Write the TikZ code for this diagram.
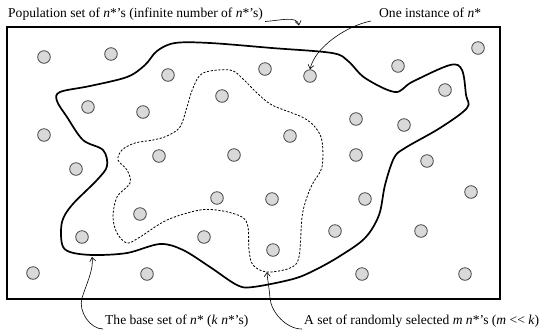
\documentclass[tikz,border=0pt]{standalone}
\usepackage{fontspec}
\setmainfont{Liberation Serif}
\usetikzlibrary{arrows.meta}
\begin{document}
\begin{tikzpicture}[x=1bp,y=-1bp,
  dot/.style={circle,draw=black!75,fill=black!15,line width=0.8bp,minimum size=12.6bp,inner sep=0pt},
  lbl/.style={font=\fontsize{13.6}{16}\selectfont,inner sep=0pt,anchor=base west},
  frame/.style={line width=1.1bp,draw=black},
  baseset/.style={line width=1.7bp,draw=black},
  subset/.style={line width=0.8bp,draw=black,dash pattern=on 2.2bp off 1.6bp},
  callout/.style={line width=0.6bp,draw=black,-{Straight Barb[length=4bp,width=6bp]}}]
\useasboundingbox (0,0) rectangle (544,331);
\draw[frame] (7,27) rectangle (500,299);
% base set
\draw[baseset] plot[smooth cycle,tension=0.55] coordinates {
 (60,92) (90,86) (127,77) (145,65) (157,51) (175,43) (210,43) (272,48) (332,53)
 (348,61) (365,78) (395,92) (412,82) (450,65) (462,70) (466,95) (467,108) (440,128)
 (405,148) (394,158) (385,185) (379,215) (365,238) (340,256) (315,270) (293,279)
 (253,287) (237,285) (210,267) (183,250) (160,244) (127,253) (93,255) (70,252)
 (62,244) (62,222) (72,205) (97,180) (107,166) (103,150) (83,140) (67,117) (57,101)};
% random subset
\draw[subset] plot[smooth cycle,tension=0.55] coordinates {
 (153,140) (167,136) (180,127) (187,107) (193,88) (203,73) (230,70) (243,79) (256,92)
 (272,105) (302,117) (315,127) (322,141) (322,167) (313,183) (307,197) (302,217)
 (299,257) (290,268) (267,272) (253,265) (249,250) (248,227) (242,217) (223,211)
 (200,210) (167,220) (140,237) (127,243) (117,233) (113,217) (117,197) (130,183)
 (127,170) (118,160) (122,150) (135,143)};
% circles
\foreach \px/\py [count=\i] in {44/57,111/54,168/75,222/96,265/69,88/107,143/112,44/135,
  478/48,398/66,310/76,445/90,356/119,404/125,290/136,76/169,159/156,234/155,356/155,
  217/198,140/214,82/237,204/237,272/199,273/250,365/199,427/161,471/192,335/231,
  421/231,33/273,147/274,362/274,465/274}
  \node[dot] (c\i) at (\px,\py) {};
% labels
\node[lbl] (pop) at (8,17) {Population set of \textit{n}*’s (infinite number of \textit{n}*’s)};
\node[lbl] (one) at (379,17) {One instance of \textit{n}*};
\node[lbl] (base) at (105,324) {The base set of \textit{n}* (\textit{k} \textit{n}*’s)};
\node[lbl] (rand) at (304,324) {A set of randomly selected \textit{m} \textit{n}*’s (\textit{m} <{}< \textit{k})};
\coordinate (popT) at (299,25.5);
\coordinate (baseT) at (92,257);
\coordinate (randT) at (267,272);
\draw[callout] ([xshift=2bp,yshift=-4.5bp]pop.base east) .. controls +(15,-1) and +(-2,-10) .. (popT);
\draw[callout] ([xshift=-8bp,yshift=-4bp]one.base west) .. controls +(-25,5) and +(5,-22) .. (c11.north);
\draw[callout] ([xshift=-2bp,yshift=-5bp]base.base west) .. controls +(-13,0) and +(-4,13) .. (82,298) .. controls +(4,-13) and +(2,12) .. (baseT);
\draw[callout] ([xshift=-2bp,yshift=-5bp]rand.base west) .. controls +(-16,0) and +(1,14) .. (270,298) .. controls +(-1,-12) and +(0.5,8) .. (randT);
\end{tikzpicture}
\end{document}
